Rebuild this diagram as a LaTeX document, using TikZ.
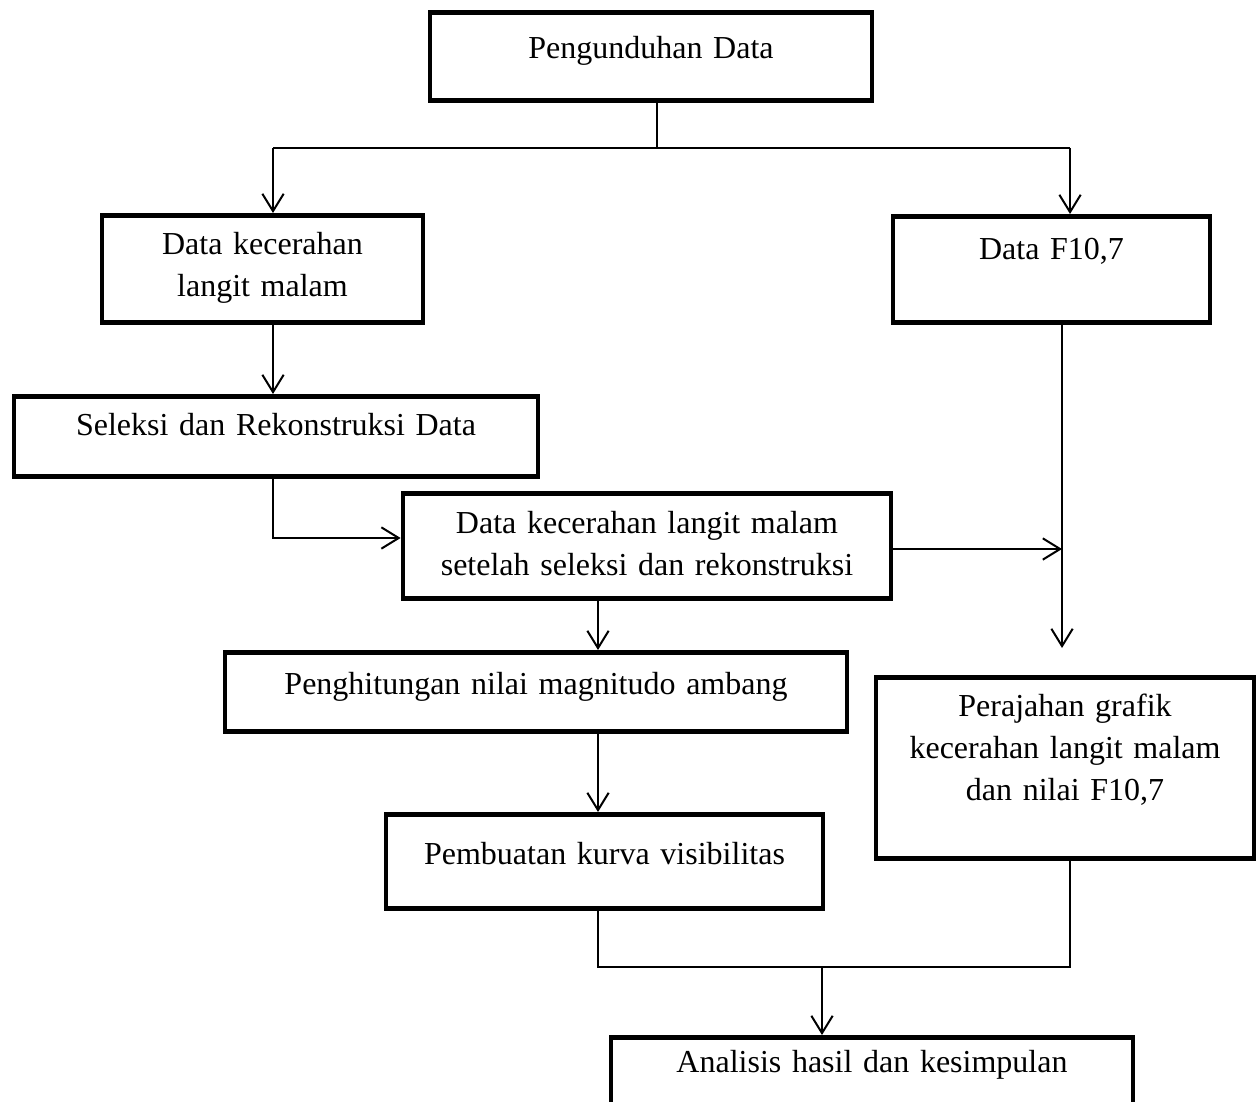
\documentclass[tikz,border=0pt]{standalone}
\usepackage{fontspec}
\setmainfont{Liberation Serif}
\usepackage{tikz}
\usetikzlibrary{positioning, arrows.meta}

\tikzset{
  stage/.style={draw, line width=1.8pt, anchor=north, align=center, inner sep=0pt,
    font=\fontsize{12}{15.75}\selectfont},
  flow/.style={line width=0.75pt, -{Straight Barb[length=6.5pt, width=8pt]}},
  link/.style={line width=0.75pt}
}

\begin{document}
\begin{tikzpicture}[x=0.375pt, y=-0.375pt]
\clip (0,0) rectangle (1260,1101);
% Boxes
\node[stage, text width=165.75pt, text height=17.25pt, text depth=15.75pt] (download) at (651,10) {Pengunduhan Data};
\node[stage, text width=120.375pt, text height=14.625pt, text depth=25.5pt] (sky) at (262.5,213) {Data kecerahan\\langit malam};
\node[stage, text width=118.875pt, text height=16.125pt, text depth=23.625pt] (flux) at (1051.5,214) {Data F10,7};
\node[stage, text width=196.5pt, text height=14.625pt, text depth=15.375pt] (select) at (276,394) {Seleksi dan Rekonstruksi Data};
\node[stage, text width=183pt, text height=15pt, text depth=24.375pt] (clean) at (647,491) {Data kecerahan langit malam\\setelah seleksi dan rekonstruksi};
\node[stage, text width=233.25pt, text height=15.75pt, text depth=13.875pt] (thresh) at (536,650) {Penghitungan nilai magnitudo ambang};
\node[stage, text width=141.75pt, text height=14.625pt, text depth=53.25pt] (plot) at (1065,675) {Perajahan grafik\\kecerahan langit malam\\dan nilai F10,7};
\node[stage, text width=163.875pt, text height=18.75pt, text depth=16.5pt] (curve) at (604.5,812) {Pembuatan kurva visibilitas};
\node[stage, text width=195.75pt, text height=13.125pt, text depth=16.875pt] (result) at (872,1035) {Analisis hasil dan kesimpulan};
% Junction points
\coordinate (split) at (657,148);
\coordinate (splitL) at (273,148);
\coordinate (splitR) at (1070,148);
\coordinate (bend) at (273,538);
\coordinate (fluxend) at (1062,648);
\coordinate (mergeL) at (598,967);
\coordinate (mergeR) at (1070,967);
\coordinate (merge) at (822,967);
% Connectors
\draw[link] (download.south -| split) -- (split);
\draw[link] (splitL) -- (splitR);
\draw[flow] (splitL) -- (splitL |- sky.north);
\draw[flow] (splitR) -- (splitR |- flux.north);
\draw[flow] (sky.south -| splitL) -- (select.north -| splitL);
\draw[flow] (select.south -| bend) -- (bend) -- (bend -| clean.west);
\draw[flow] (flux.south -| fluxend) -- (fluxend);
\draw[flow] (clean.east |- 0,549) -- (fluxend |- 0,549);
\draw[flow] (clean.south -| mergeL) -- (thresh.north -| mergeL);
\draw[flow] (thresh.south -| mergeL) -- (curve.north -| mergeL);
\draw[link] (curve.south -| mergeL) -- (mergeL) -- (mergeR) -- (plot.south -| mergeR);
\draw[flow] (merge) -- (result.north -| merge);
\end{tikzpicture}
\end{document}
